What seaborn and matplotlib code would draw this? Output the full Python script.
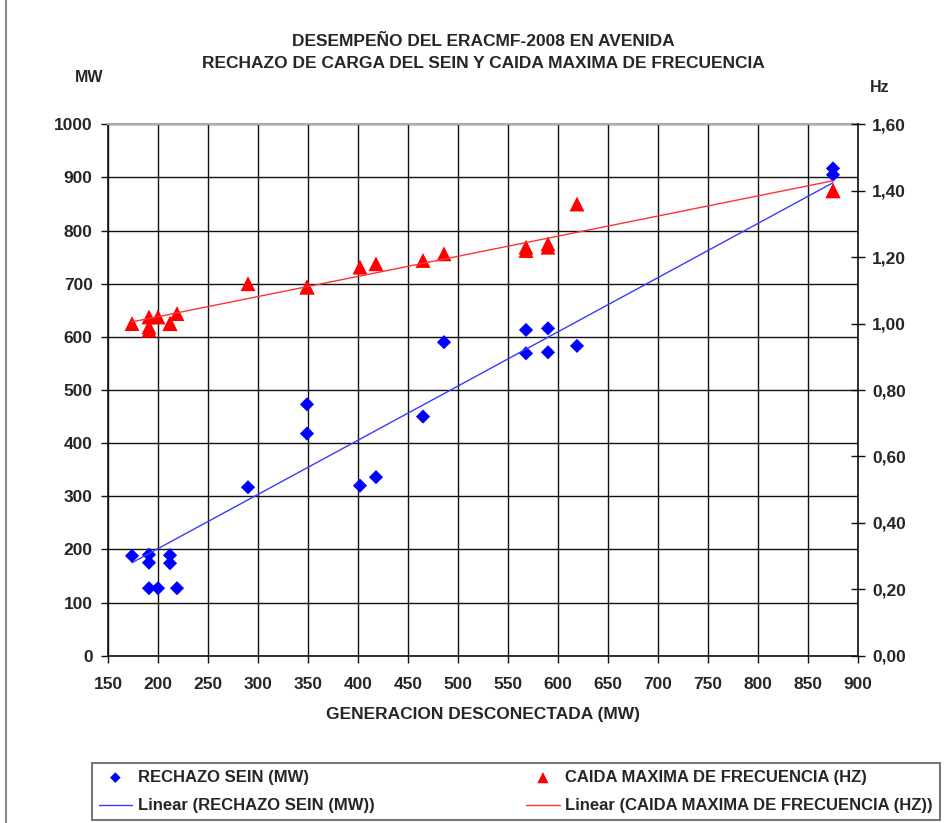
import numpy as np
import pandas as pd
import matplotlib
matplotlib.use("Agg")
import matplotlib.pyplot as plt
import seaborn as sns
from matplotlib.ticker import FuncFormatter
from matplotlib.lines import Line2D

# ---- data ----
generacion = [174, 191, 191, 191, 200, 212, 212, 219, 290, 349, 349, 402, 418,
              465, 486, 568, 568, 590, 590, 619, 875, 875]
rechazo_mw = [188, 190, 175, 127, 127, 189, 174, 127, 317, 473, 418, 320, 336,
              450, 590, 613, 569, 616, 571, 583, 917, 905]
caida_hz = [1.00, 1.02, 0.99, 0.98, 1.02, 1.00, 1.00, 1.03, 1.12, 1.11, 1.11, 1.17, 1.18,
            1.19, 1.21, 1.23, 1.22, 1.23, 1.24, 1.36, 1.40, 1.40]
# Excel "Linear" trendlines, end values
trend_x = [174, 875]
trend_rechazo = [175, 890]
trend_caida = [1.005, 1.43]

x_ticks = list(range(150, 901, 50))
y_ticks_mw = list(range(0, 1001, 100))
y_ticks_hz = [0.0, 0.2, 0.4, 0.6, 0.8, 1.0, 1.2, 1.4, 1.6]

title_1 = "DESEMPEÑO DEL ERACMF-2008 EN AVENIDA"
title_2 = "RECHAZO DE CARGA DEL SEIN Y CAIDA MAXIMA DE FRECUENCIA"
lbl_rech = "RECHAZO SEIN (MW)"
lbl_caida = "CAIDA MAXIMA DE FRECUENCIA (HZ)"

df = pd.DataFrame({"gen": generacion, "rech": rechazo_mw, "caida": caida_hz})
dft = pd.DataFrame({"x": trend_x, "rech": trend_rechazo, "caida": trend_caida})

sns.set_style("white")
plt.rcParams['font.family'] = ['Liberation Sans', 'DejaVu Sans']
plt.rcParams['font.weight'] = 'bold'
FS = 12.5

W, H = 945, 823
fig = plt.figure(figsize=(W / 100, H / 100), dpi=100)
L, R, T, B = 108, 858, 124.3, 655.7
ax = fig.add_axes([L / W, 1 - B / H, (R - L) / W, (B - T) / H])
ax2 = ax.twinx()

BLUE = "#0000FF"
RED = "#FF0000"

sns.scatterplot(data=df, x="gen", y="rech", marker="D", color=BLUE, s=52,
                edgecolor="none", ax=ax, zorder=3, label=lbl_rech)
sns.lineplot(data=dft, x="x", y="rech", ax=ax, color="#3a3aff", lw=1.0, zorder=4,
             label="Linear (" + lbl_rech + ")")

sns.scatterplot(data=df, x="gen", y="caida", marker="^", color=RED, s=115,
                edgecolor="none", ax=ax2, zorder=3, label=lbl_caida)
sns.lineplot(data=dft, x="x", y="caida", ax=ax2, color="#ff3333", lw=1.0, zorder=4,
             label="Linear (" + lbl_caida + ")")

h1, l1 = ax.get_legend_handles_labels()
h2, l2 = ax2.get_legend_handles_labels()
for a in (ax, ax2):
    if a.get_legend() is not None:
        a.get_legend().remove()

ax.set_xlim(150, 900)
ax.set_ylim(0, 1000)
ax2.set_ylim(0, 1.6)
ax.set_xticks(x_ticks)
ax.set_yticks(y_ticks_mw)
ax2.set_yticks(y_ticks_hz)
ax2.yaxis.set_major_formatter(FuncFormatter(lambda v, p: f"{v:.2f}".replace(".", ",")))
ax.set_xlabel("")
ax.set_ylabel("")
ax2.set_ylabel("")
ax2.set_xlabel("")

ax.grid(True, color="#111111", lw=1.0)
ax2.grid(False)
ax.set_axisbelow(True)

for s in ["left", "bottom"]:
    ax.spines[s].set_color("#111111")
    ax.spines[s].set_linewidth(1.2)
ax.spines["top"].set_color("#aaaaaa")
ax.spines["top"].set_linewidth(1.5)
ax.spines["right"].set_visible(False)
for s in ["left", "top", "bottom"]:
    ax2.spines[s].set_visible(False)
ax2.spines["right"].set_color("#111111")
ax2.spines["right"].set_linewidth(1.2)

ax.tick_params(axis="both", direction="out", length=5, width=1, color="#111111",
               labelsize=FS, left=True, bottom=True)
ax.tick_params(axis="y", pad=6)
ax.tick_params(axis="x", pad=10)
ax2.tick_params(axis="y", direction="inout", length=10, width=1, color="#111111",
                labelsize=FS, pad=5, right=True)

fig.text(483 / W, 1 - 42 / H, title_1, ha="center", va="center", fontsize=FS, fontweight="bold")
fig.text(483 / W, 1 - 63 / H, title_2, ha="center", va="center", fontsize=FS, fontweight="bold")
fig.text(89 / W, 1 - 77 / H, "MW", ha="center", va="center", fontsize=FS - 1, fontweight="bold")
fig.text(880 / W, 1 - 87 / H, "Hz", ha="center", va="center", fontsize=FS - 1, fontweight="bold")
fig.text(483 / W, 1 - 714 / H, "GENERACION DESCONECTADA (MW)", ha="center", va="center",
         fontsize=FS, fontweight="bold")

handles = h1 + h2
labels = l1 + l2
leg = fig.legend(handles, labels, loc="lower left", bbox_to_anchor=(92 / W, 3 / H),
                 bbox_transform=fig.transFigure, ncol=2, frameon=True, fancybox=False,
                 edgecolor="#555555", fontsize=12, handlelength=2.0, handletextpad=0.35,
                 columnspacing=9.1, labelspacing=0.8, borderpad=0.4, borderaxespad=0,
                 markerscale=0.75)
leg.get_frame().set_linewidth(1.5)

fig.add_artist(Line2D([6 / W, 6 / W], [0, 1], transform=fig.transFigure, color="#888888", lw=1.5))

fig.savefig("out.png", dpi=100)
